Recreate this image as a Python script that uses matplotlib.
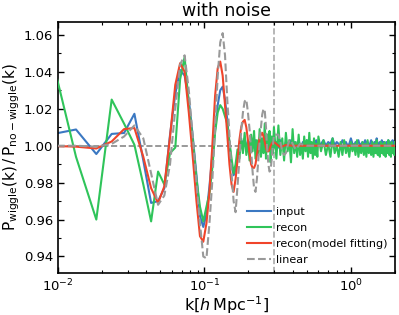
import numpy as np
import matplotlib
matplotlib.use("Agg")
import matplotlib.pyplot as plt
from matplotlib.ticker import MultipleLocator

# k bins (h/Mpc) of the measured spectra
k_bins = [0.0083, 0.0133, 0.0183, 0.0233, 0.0283, 0.0333, 0.0383, 0.0433, 0.0483, 0.0533,
          0.0583, 0.0633, 0.0683, 0.0733, 0.0783, 0.0833, 0.0883, 0.0933, 0.0983, 0.1033,
          0.1083, 0.1133, 0.1183, 0.1233, 0.1283, 0.1333, 0.1383, 0.1433, 0.1483, 0.1533,
          0.1583, 0.1633, 0.1683, 0.1733, 0.1783, 0.1833, 0.1883, 0.1933, 0.1983, 0.2033,
          0.2083, 0.2133, 0.2183, 0.2233, 0.2283, 0.2333, 0.2383, 0.2433, 0.2483, 0.2533,
          0.2583, 0.2633, 0.2683, 0.2733, 0.2783, 0.2833, 0.2883, 0.2933, 0.2983]
k_high = [0.31, 0.32, 0.33, 0.34, 0.35, 0.36, 0.37, 0.38, 0.39, 0.40,
          0.41, 0.42, 0.43, 0.44, 0.45, 0.46, 0.47, 0.48, 0.49, 0.50,
          0.51, 0.52, 0.53, 0.54, 0.55, 0.56, 0.57, 0.58, 0.59, 0.60,
          0.625, 0.65, 0.675, 0.70, 0.725, 0.75, 0.775, 0.80,
          0.825, 0.85, 0.875, 0.90, 0.925, 0.95, 0.975, 1.00,
          1.025, 1.05, 1.075, 1.10, 1.125, 1.15, 1.175, 1.20,
          1.225, 1.25, 1.275, 1.30, 1.325, 1.35, 1.375, 1.40,
          1.425, 1.45, 1.475, 1.50, 1.525, 1.55, 1.575, 1.60,
          1.625, 1.65, 1.675, 1.70, 1.725, 1.75, 1.775, 1.80,
          1.825, 1.85, 1.875, 1.90, 1.925, 1.95, 1.975, 2.00]

input_low = [1.0056, 1.0088, 0.9955, 1.0064, 1.0069, 1.0173, 0.992, 0.969, 0.970, 0.977,
             1.006, 1.028, 1.041, 1.038, 1.025, 1.005, 0.984, 0.962, 0.956, 0.963,
             0.978, 0.995, 1.009, 1.022, 1.030, 1.032, 1.025, 1.014, 1.001, 0.990,
             0.984, 0.987, 0.994, 0.999, 1.003, 1.001, 1.004, 1.000, 0.998, 1.002,
             0.997, 1.001, 0.999, 1.003, 1.000, 0.998, 1.002, 1.004, 1.000, 0.997,
             1.001, 1.003, 0.999, 1.001, 0.998, 1.002, 1.000, 1.003, 0.999]
input_high = [1.002, 0.999, 1.003, 1.000, 0.998, 1.002, 1.001, 0.999, 1.003, 1.000,
              1.002, 0.999, 1.001, 1.003, 1.000, 0.999, 1.002, 1.001, 1.000, 1.003,
              0.999, 1.001, 1.002, 1.000, 0.999, 1.002, 1.001, 1.003, 1.000, 1.001,
              1.001, 1.003, 1.000, 1.002, 1.001, 1.004, 1.000, 1.002,
              1.001, 1.000, 1.003, 1.001, 1.002, 1.000, 1.001, 1.004,
              1.001, 1.000, 1.002, 1.001, 1.003, 1.000, 1.001, 1.002,
              1.000, 1.003, 1.001, 1.002, 1.000, 1.001, 1.003, 1.001,
              1.000, 1.002, 1.001, 1.004, 1.000, 1.001, 1.002, 1.000,
              1.003, 1.001, 1.002, 1.000, 1.001, 1.002, 1.000, 1.003,
              1.001, 1.000, 1.002, 1.001, 1.003, 1.000, 1.001, 1.002]

recon_low = [1.061, 0.994, 0.960, 1.025, 1.012, 1.0005, 0.979, 0.959, 0.986, 0.979,
             0.996, 0.999, 1.036, 1.048, 1.022, 1.003, 0.982, 0.967, 0.959, 0.967,
             0.974, 0.988, 1.007, 1.018, 1.022, 1.020, 1.016, 1.012, 1.002, 0.993,
             0.985, 0.990, 0.998, 0.993, 1.004, 0.996, 1.007, 0.995, 1.002, 0.992,
             1.006, 0.997, 1.008, 0.993, 1.003, 0.995, 1.009, 0.994, 1.004, 0.996,
             1.012, 0.993, 1.006, 0.997, 1.008, 0.991, 1.005, 0.996, 1.010]
recon_high = [0.993, 1.011, 0.995, 1.004, 0.992, 1.007, 0.997, 1.003, 0.991, 1.009,
              0.996, 1.002, 0.994, 1.006, 0.995, 1.001, 0.993, 1.005, 0.997, 1.003,
              0.994, 1.007, 0.996, 1.002, 0.993, 1.004, 0.995, 1.001, 0.994, 1.005,
              0.997, 1.003, 0.995, 1.001, 0.994, 1.004, 0.996, 1.000,
              0.994, 1.002, 0.995, 1.003, 0.996, 1.000, 0.994, 1.002,
              0.997, 1.001, 0.995, 1.003, 0.994, 1.000, 0.996, 1.002,
              0.995, 1.001, 0.994, 1.003, 0.996, 1.000, 0.995, 1.002,
              0.994, 1.001, 0.996, 1.003, 0.995, 1.000, 0.994, 1.002,
              0.996, 1.001, 0.995, 1.002, 0.994, 1.000, 0.996, 1.003,
              0.995, 1.001, 0.994, 1.002, 0.996, 1.000, 0.995, 1.002]

fit_low = [1.000, 0.9995, 0.9985, 1.0023, 1.009, 1.0096, 0.994, 0.977, 0.969, 0.978,
           1.005, 1.033, 1.0447, 1.040, 1.018, 0.994, 0.970, 0.951, 0.948, 0.958,
           0.975, 1.000, 1.027, 1.042, 1.0456, 1.038, 1.022, 1.006, 0.990, 0.979,
           0.975, 0.982, 0.992, 1.003, 1.010, 1.013, 1.014, 1.010, 1.003, 0.996,
           0.990, 0.988, 0.988, 0.990, 0.995, 1.000, 1.004, 1.006, 1.007, 1.005,
           1.002, 0.999, 0.997, 0.997, 0.998, 1.000, 1.001, 1.002, 1.002]
k_fit_high = [0.31, 0.32, 0.33, 0.34, 0.36, 0.40, 0.50, 0.70, 1.00, 1.50, 2.00]
fit_high = [1.001, 1.000, 0.9993, 0.9996, 1.0004, 1.000, 1.000, 1.000, 1.000, 1.000, 1.000]

linear_low = [1.000, 1.000, 0.9995, 1.001, 1.005, 1.011, 1.004, 0.985, 0.968, 0.973,
              0.990, 1.020, 1.044, 1.049, 1.030, 1.005, 0.980, 0.958, 0.940, 0.939,
              0.958, 0.981, 1.010, 1.038, 1.056, 1.061, 1.049, 1.025, 1.006, 0.985,
              0.970, 0.964, 0.978, 0.992, 1.008, 1.018, 1.024, 1.025, 1.018, 1.009,
              0.998, 0.986, 0.977, 0.975, 0.982, 0.992, 1.002, 1.010, 1.017, 1.020,
              1.019, 1.010, 0.998, 0.990, 0.986, 0.987, 0.993, 1.000, 1.006]
k_lin_high = [0.31, 0.32, 0.33, 0.34, 0.35, 0.36, 0.37, 0.38, 0.39, 0.40,
              0.42, 0.45, 0.50, 0.70, 1.00, 2.00]
linear_high = [1.006, 1.006, 1.002, 0.997, 0.995, 0.996, 1.000, 1.003, 1.003, 1.001,
               0.998, 1.001, 1.000, 1.000, 1.000, 1.000]

k_cut = 0.3


def series(k_a, v_a, k_b, v_b):
    k = list(k_a) + list(k_b)
    v = list(v_a) + list(v_b)
    n = min(len(k), len(v))
    return np.array(k[:n]), np.array(v[:n])


k_in, p_in = series(k_bins, input_low, k_high, input_high)
k_rc, p_rc = series(k_bins, recon_low, k_high, recon_high)
k_ft, p_ft = series(k_bins, fit_low, k_fit_high, fit_high)
k_ln, p_ln = series(k_bins, linear_low, k_lin_high, linear_high)

fig = plt.figure(figsize=(3.99, 3.15), dpi=100)
ax = fig.add_axes([0.145, 0.133, 0.845, 0.797])

ax.axhline(1.0, color='#888888', ls='--', lw=1.2, zorder=1)
ax.axvline(k_cut, color='#aaaaaa', ls='--', lw=1.2, zorder=1)

ax.plot(k_in, p_in, color='#3b78c2', lw=1.5, label='input', zorder=2)
ax.plot(k_rc, p_rc, color='#2fc45a', lw=1.5, label='recon', zorder=3)
ax.plot(k_ft, p_ft, color='#f0442a', lw=1.5, label='recon(model fitting)', zorder=4)
ax.plot(k_ln, p_ln, color='#999999', ls='--', lw=1.5, label='linear', zorder=5)

ax.set_xscale('log')
ax.set_xlim(0.01, 2.0)
ax.set_ylim(0.931, 1.067)
ax.yaxis.set_major_locator(MultipleLocator(0.02))
ax.yaxis.set_minor_locator(MultipleLocator(0.01))
ax.yaxis.set_major_formatter(plt.FormatStrFormatter('%.2f'))

ax.tick_params(which='both', direction='in', top=True, right=True, labelsize=9.5)
ax.tick_params(which='major', length=4, width=1)
ax.tick_params(which='minor', length=2, width=0.8)
for s in ax.spines.values():
    s.set_linewidth(1.2)

ax.set_xlabel(r'k[$h\,\mathrm{Mpc}^{-1}$]', fontsize=11.5, labelpad=0)
ax.set_ylabel(r'$\mathrm{P_{wiggle}(k)\,/\,P_{no-wiggle}(k)}$', fontsize=11, labelpad=1)
ax.set_title('with noise', fontsize=12.5, pad=4)

ax.legend(loc='lower right', frameon=False, fontsize=8, handlelength=2.2,
          handletextpad=0.4, labelspacing=0.55, borderaxespad=0.3)

fig.savefig('out.png', dpi=100)
